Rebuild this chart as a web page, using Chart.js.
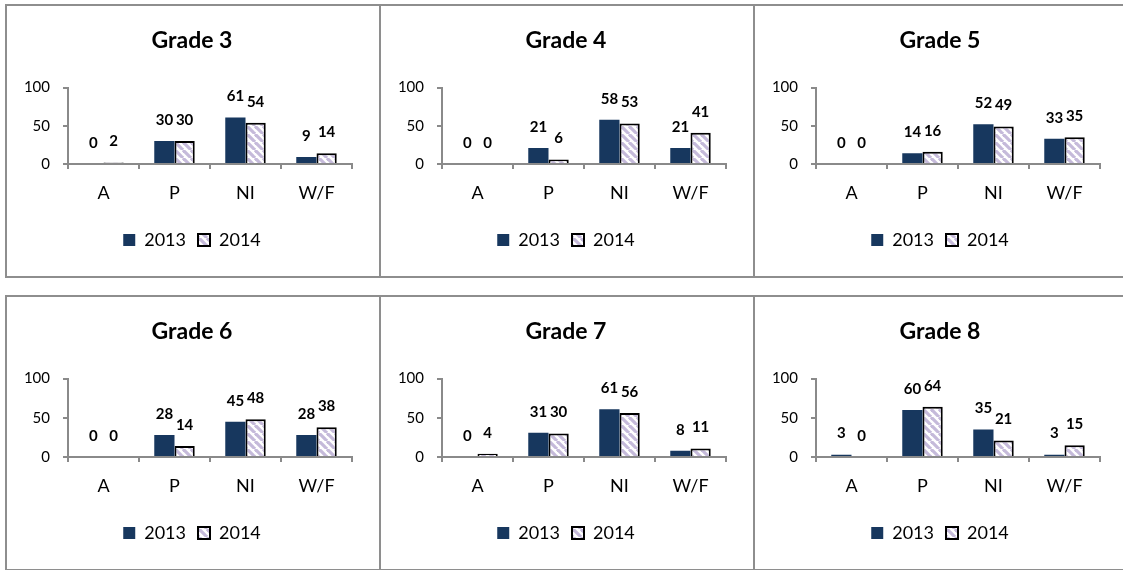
<!DOCTYPE html>
<html>
<head>
<meta charset="utf-8">
<script src="https://cdn.jsdelivr.net/npm/chart.js@4.4.1/dist/chart.umd.min.js"></script>
<style>
  body { margin: 0; background: #fff; }
  #page { position: relative; width: 1123px; height: 570px; overflow: hidden; }
  .panel { position: absolute; border: 2px solid #8e8e8e; box-sizing: border-box; background: #fff; }
  .panel canvas { position: absolute; left: 0; top: 0; }
</style>
</head>
<body>
<div id="page"></div>
<script>
// chart data
var grades = ["Grade 3", "Grade 4", "Grade 5", "Grade 6", "Grade 7", "Grade 8"];
var categories = ["A", "P", "NI", "W/F"];
var years = ["2013", "2014"];
var values2013 = [
  [0, 30, 61, 9],
  [0, 21, 58, 21],
  [0, 14, 52, 33],
  [0, 28, 45, 28],
  [0, 31, 61, 8],
  [3, 60, 35, 3],
];
var values2014 = [
  [2, 30, 54, 14],
  [0, 6, 53, 41],
  [0, 16, 49, 35],
  [0, 14, 48, 38],
  [4, 30, 56, 11],
  [0, 64, 21, 15],
];
var yTicks = [0, 50, 100];

Chart.defaults.font.family = "Lato";
Chart.defaults.color = "#000";

var navy = "#17375e";
var axisGray = "#8a8a8a";

function stripes() {
  var c = document.createElement("canvas");
  c.width = 8;
  c.height = 8;
  var g = c.getContext("2d");
  g.fillStyle = "#fff";
  g.fillRect(0, 0, 8, 8);
  g.strokeStyle = "#c5bada";
  g.lineWidth = 3.2;
  for (var o = -8; o <= 8; o += 8) {
    g.beginPath();
    g.moveTo(o, 0);
    g.lineTo(o + 8, 8);
    g.stroke();
  }
  return g.createPattern(c, "repeat");
}

// numbers above the bars
var valueLabels = {
  id: "valueLabels",
  afterDatasetsDraw: function (chart) {
    var ctx = chart.ctx;
    ctx.save();
    ctx.font = "bold 15px Lato";
    ctx.fillStyle = "#000";
    ctx.textAlign = "center";
    ctx.textBaseline = "middle";
    chart.data.datasets.forEach(function (ds, i) {
      chart.getDatasetMeta(i).data.forEach(function (bar, j) {
        ctx.fillText(ds.data[j], bar.x, bar.y - 21);
      });
    });
    ctx.restore();
  },
};

var page = document.getElementById("page");
var lefts = [5, 379, 753];
var tops = [4, 295];
var heights = [274, 276];

grades.forEach(function (grade, k) {
  var row = Math.floor(k / 3);
  var col = k % 3;
  var panel = document.createElement("div");
  panel.className = "panel";
  panel.style.left = lefts[col] + "px";
  panel.style.top = tops[row] + "px";
  panel.style.width = "376px";
  panel.style.height = heights[row] + "px";
  var canvas = document.createElement("canvas");
  canvas.width = 372;
  canvas.height = heights[row] - 4;
  panel.appendChild(canvas);
  page.appendChild(panel);

  var pattern = stripes();

  new Chart(canvas.getContext("2d"), {
    type: "bar",
    data: {
      labels: categories,
      datasets: [
        {
          label: years[0],
          data: values2013[k],
          backgroundColor: navy,
          borderWidth: 0,
        },
        {
          label: years[1],
          data: values2014[k],
          backgroundColor: pattern,
          borderColor: "#000",
          borderWidth: 2,
        },
      ],
    },
    options: {
      responsive: false,
      animation: false,
      layout: { padding: { left: 14, right: 16, top: 0, bottom: 17 } },
      datasets: { bar: { categoryPercentage: 0.57, barPercentage: 1.0 } },
      plugins: {
        title: {
          display: true,
          text: grade,
          color: "#000",
          font: { size: 23, weight: "bold" },
          padding: { top: 21, bottom: 33 },
        },
        legend: {
          position: "bottom",
          labels: {
            boxWidth: 12,
            boxHeight: 12,
            padding: 12,
            font: { size: 18 },
            color: "#000",
          },
        },
        tooltip: { enabled: false },
      },
      scales: {
        x: {
          offset: true,
          grid: {
            offset: true,
            drawOnChartArea: false,
            drawTicks: true,
            tickLength: 5,
            color: axisGray,
            lineWidth: 2,
          },
          border: { color: axisGray, width: 2 },
          ticks: { font: { size: 18 }, padding: 13, color: "#000" },
          afterFit: function (s) {
            s.height = 55;
          },
        },
        y: {
          min: 0,
          max: 100,
          afterBuildTicks: function (s) {
            s.ticks = yTicks.map(function (v) {
              return { value: v };
            });
          },
          grid: {
            drawOnChartArea: false,
            drawTicks: true,
            tickLength: 5,
            color: axisGray,
            lineWidth: 2,
          },
          border: { color: axisGray, width: 2 },
          ticks: { font: { size: 15 }, padding: 13, color: "#000" },
          afterFit: function (s) {
            s.width = 47;
          },
        },
        // empty right-hand spacer so the plot keeps its right margin
        spacer: {
          position: "right",
          display: true,
          grid: { display: false },
          border: { display: false },
          ticks: { display: false },
          afterFit: function (s) {
            s.width = 11;
          },
        },
      },
    },
    plugins: [valueLabels],
  });
});
</script>
</body>
</html>
